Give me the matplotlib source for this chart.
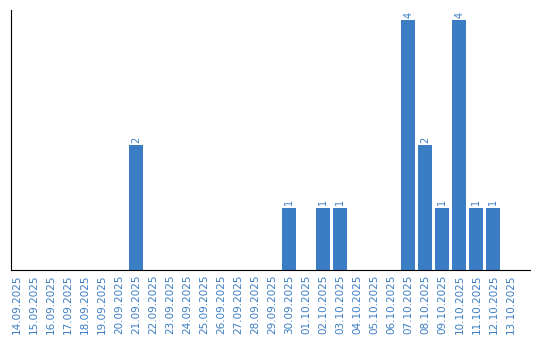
import matplotlib
matplotlib.use('Agg')
import matplotlib.pyplot as plt

dates = ['14.09.2025', '15.09.2025', '16.09.2025', '17.09.2025', '18.09.2025',
         '19.09.2025', '20.09.2025', '21.09.2025', '22.09.2025', '23.09.2025',
         '24.09.2025', '25.09.2025', '26.09.2025', '27.09.2025', '28.09.2025',
         '29.09.2025', '30.09.2025', '01.10.2025', '02.10.2025', '03.10.2025',
         '04.10.2025', '05.10.2025', '06.10.2025', '07.10.2025', '08.10.2025',
         '09.10.2025', '10.10.2025', '11.10.2025', '12.10.2025', '13.10.2025']
counts = [0, 0, 0, 0, 0, 0, 0, 2, 0, 0,
          0, 0, 0, 0, 0, 0, 1, 0, 1, 1,
          0, 0, 0, 4, 2, 1, 4, 1, 1, 0]

blue = '#3b7dc4'

fig = plt.figure(figsize=(5.4, 3.4), dpi=100)
ax = fig.add_axes([11/540, 70/340, 519/540, 260/340])

x = range(len(dates))
ax.bar(x, counts, width=0.82, color=blue)
for i, c in zip(x, counts):
    if c > 0:
        ax.text(i, c + 0.04, str(c), rotation=90, ha='center', va='bottom',
                fontsize=7, color=blue)

ax.set_xlim(-0.35, 30.15)
ax.set_ylim(0, 4.16)
ax.set_xticks(list(x))
ax.set_xticklabels(dates, rotation=90, fontsize=7.5, color=blue)
ax.tick_params(axis='x', length=0, pad=3)
ax.set_yticks([])
for s in ['top', 'right']:
    ax.spines[s].set_visible(False)

fig.savefig('out.png', dpi=100)
